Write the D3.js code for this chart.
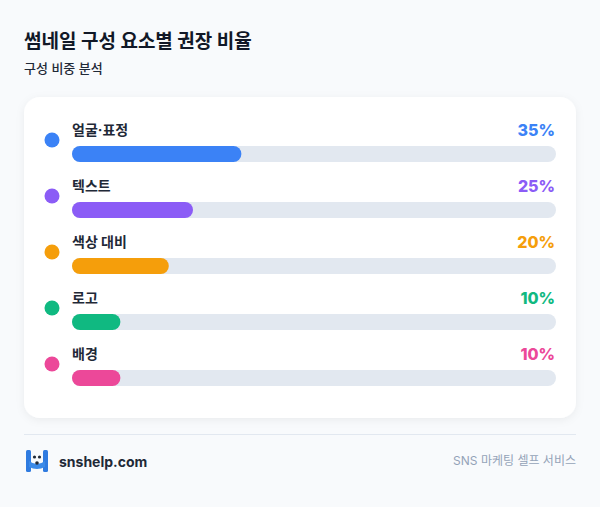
<!DOCTYPE html>
<html><head><meta charset="utf-8">
<script src="https://cdn.jsdelivr.net/npm/d3@7"></script>
<style>
html,body{margin:0;padding:0;background:#f8fafc;}
svg{display:block;font-family:Inter,"Noto Sans CJK KR",sans-serif;}
</style></head>
<body>
<svg id="chart" width="600" height="507"></svg>
<script>
const title = "썸네일 구성 요소별 권장 비율";
const subtitle = "구성 비중 분석";
const categories = ["얼굴·표정", "텍스트", "색상 대비", "로고", "배경"];
const values = [35, 25, 20, 10, 10];
const colors = ["#3b82f6", "#8b5cf6", "#f59e0b", "#10b981", "#ec4899"];
const footerLeft = "snshelp.com";
const footerRight = "SNS 마케팅 셀프 서비스";

const svg = d3.select("#chart");
const defs = svg.append("defs");
const f = defs.append("filter").attr("id","sh").attr("x","-10%").attr("y","-10%").attr("width","120%").attr("height","130%");
f.append("feDropShadow").attr("dx",0).attr("dy",2).attr("stdDeviation",4).attr("flood-color","#0f172a").attr("flood-opacity",0.06);

svg.append("rect").attr("width",600).attr("height",507).attr("fill","#f8fafc");

svg.append("text").attr("x",24).attr("y",48).attr("font-size",19).attr("font-weight",700).attr("fill","#111827").text(title);
svg.append("text").attr("x",24).attr("y",73).attr("font-size",13).attr("font-weight",500).attr("fill","#1f2937").text(subtitle);

svg.append("rect").attr("x",24).attr("y",97).attr("width",552).attr("height",321).attr("rx",16)
  .attr("fill","#ffffff").attr("filter","url(#sh)");

const x = d3.scaleLinear().domain([0,100]).range([72,556]);
const y = d3.scaleBand().domain(categories).range([112,392]);

const rows = svg.selectAll("g.row").data(categories).join("g").attr("class","row")
  .attr("transform", d => `translate(0,${y(d)})`);

rows.append("circle").attr("cx",52).attr("cy",28).attr("r",7.5).attr("fill",(d,i)=>colors[i]);
rows.append("text").attr("x",72).attr("y",23).attr("font-size",14).attr("font-weight",700).attr("fill","#1f2937").text(d=>d);
rows.append("text").attr("x",555).attr("y",24).attr("text-anchor","end").attr("font-size",16).attr("font-weight",800)
  .attr("fill",(d,i)=>colors[i]).text((d,i)=>values[i]+"%");
rows.append("rect").attr("x",x(0)).attr("y",34).attr("width",x(100)-x(0)).attr("height",16).attr("rx",8).attr("fill","#e2e8f0");
rows.append("rect").attr("x",x(0)).attr("y",34).attr("width",(d,i)=>x(values[i])-x(0)).attr("height",16).attr("rx",8).attr("fill",(d,i)=>colors[i]);

svg.append("line").attr("x1",24).attr("x2",576).attr("y1",434.5).attr("y2",434.5).attr("stroke","#e2e8f0").attr("stroke-width",1);

// logo
const lg = svg.append("g").attr("transform","translate(26,450)");
lg.append("rect").attr("x",0).attr("y",0).attr("width",5).attr("height",22).attr("rx",1.5).attr("fill","#2f7be0");
lg.append("rect").attr("x",17).attr("y",0).attr("width",5).attr("height",22).attr("rx",1.5).attr("fill","#2f7be0");
lg.append("path").attr("d","M3,11 Q11,17 19,11 L19,17 Q11,21 3,17 Z").attr("fill","#3b8ae8");
lg.append("circle").attr("cx",8.5).attr("cy",7).attr("r",1.6).attr("fill","#1f2937");
lg.append("circle").attr("cx",13.5).attr("cy",7).attr("r",1.6).attr("fill","#1f2937");
lg.append("circle").attr("cx",11).attr("cy",13).attr("r",1.8).attr("fill","#1f2937");

svg.append("text").attr("x",59).attr("y",467).attr("font-size",14).attr("font-weight",700).attr("fill","#1f2937").text(footerLeft);
svg.append("text").attr("x",576).attr("y",465).attr("text-anchor","end").attr("font-size",12).attr("fill","#94a3b8").text(footerRight);
</script>
</body></html>
